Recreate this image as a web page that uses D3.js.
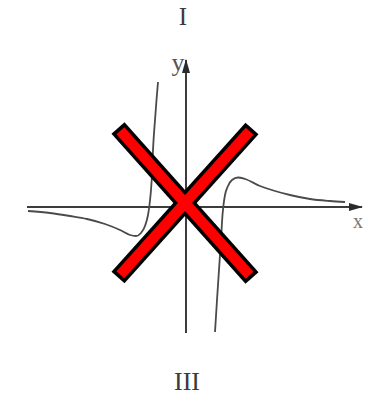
<!DOCTYPE html>
<html>
<head>
<meta charset="utf-8">
<script src="https://cdn.jsdelivr.net/npm/d3@7"></script>
<style>
  body { margin: 0; background: #fff; }
  svg { display: block; }
</style>
</head>
<body>
<svg id="chart" width="368" height="417"></svg>
<script>
// curve (x, y in plot units)
const leftX = [-7.9, -6.8, -5.8, -4.95, -4.05, -3.3, -2.8, -2.5, -2.25, -2.05, -1.9, -1.825, -1.75, -1.7, -1.65, -1.55, -1.475, -1.4];
const leftY = [-0.2, -0.3, -0.45, -0.6, -0.85, -1.15, -1.4, -1.45, -1.3, -0.95, -0.4, 0.1, 0.85, 1.6, 2.85, 4.35, 5.35, 6.25];
const rightX = [1.45, 1.55, 1.65, 1.75, 1.825, 1.875, 1.95, 2.1, 2.3, 2.6, 2.95, 3.7, 4.45, 5.2, 6.2, 7.2, 7.95];
const rightY = [-6.25, -4.65, -3.15, -1.65, -0.4, 0.1, 0.6, 1.05, 1.35, 1.475, 1.4, 1.05, 0.8, 0.6, 0.4, 0.3, 0.25];

const xAxisExtent = [-7.95, 8.8];
const yAxisExtent = [-6.3, 7.35];
const quadrantLabels = ["I", "III"];
// red cross arms: [x1, y1, x2, y2]
const crossArms = [[-3.4, 3.95, 3.3, -3.55], [3.3, 3.925, -3.4, -3.525]];

let svg = d3.select("#chart");

let xScale = d3.scaleLinear().domain([0, 1]).range([186, 206]),
  yScale = d3.scaleLinear().domain([0, 1]).range([207, 187]);

// arrow heads
let defs = svg.append("defs");
defs.append("marker")
  .attr("id", "arrow")
  .attr("viewBox", "0 0 14 8")
  .attr("refX", 13)
  .attr("refY", 4)
  .attr("markerWidth", 14)
  .attr("markerHeight", 8)
  .attr("markerUnits", "userSpaceOnUse")
  .attr("orient", "auto")
  .append("path")
  .attr("d", "M0,0 L14,4 L0,8 Z")
  .attr("fill", "#2b2b2b");

// axes
svg.append("line")
  .attr("x1", xScale(xAxisExtent[0]))
  .attr("x2", xScale(xAxisExtent[1]))
  .attr("y1", yScale(0))
  .attr("y2", yScale(0))
  .attr("stroke", "#3c3c3c")
  .attr("stroke-width", 2)
  .attr("marker-end", "url(#arrow)");

svg.append("line")
  .attr("x1", xScale(0))
  .attr("x2", xScale(0))
  .attr("y1", yScale(yAxisExtent[0]))
  .attr("y2", yScale(yAxisExtent[1]))
  .attr("stroke", "#3c3c3c")
  .attr("stroke-width", 2)
  .attr("marker-end", "url(#arrow)");

// curve
let line = d3.line()
  .x((d) => xScale(d[0]))
  .y((d) => yScale(d[1]))
  .curve(d3.curveMonotoneX);

[[leftX, leftY], [rightX, rightY]].forEach(([xs, ys]) => {
  svg.append("path")
    .datum(xs.map((x, i) => [x, ys[i]]))
    .attr("d", line)
    .attr("fill", "none")
    .attr("stroke", "#4a4a4a")
    .attr("stroke-width", 1.8);
});

// labels
const serif = "'Liberation Serif', 'DejaVu Serif', serif";
svg.append("text")
  .attr("x", 183).attr("y", 25)
  .attr("text-anchor", "middle")
  .attr("font-family", serif)
  .attr("font-size", "25px")
  .attr("fill", "#3a3a3a")
  .text(quadrantLabels[0]);

svg.append("text")
  .attr("x", 187).attr("y", 390)
  .attr("text-anchor", "middle")
  .attr("font-family", serif)
  .attr("font-size", "26px")
  .attr("fill", "#3a3a3a")
  .text(quadrantLabels[1]);

svg.append("text")
  .attr("x", 178).attr("y", 71)
  .attr("text-anchor", "middle")
  .attr("font-family", serif)
  .attr("font-size", "26px")
  .attr("fill", "#555")
  .text("y");

svg.append("text")
  .attr("x", 358).attr("y", 228)
  .attr("text-anchor", "middle")
  .attr("font-family", serif)
  .attr("font-size", "20px")
  .attr("fill", "#777")
  .text("x");

// red cross overlay
function armPoints(a, inset) {
  let x1 = xScale(a[0]), y1 = yScale(a[1]), x2 = xScale(a[2]), y2 = yScale(a[3]);
  let len = Math.hypot(x2 - x1, y2 - y1);
  let ux = (x2 - x1) / len, uy = (y2 - y1) / len;
  return [x1 + ux * inset, y1 + uy * inset, x2 - ux * inset, y2 - uy * inset];
}

let cross = svg.append("g");
crossArms.forEach((a) => {
  let p = armPoints(a, 0);
  cross.append("line")
    .attr("x1", p[0]).attr("y1", p[1]).attr("x2", p[2]).attr("y2", p[3])
    .attr("stroke", "#000").attr("stroke-width", 17.5);
});
crossArms.forEach((a) => {
  let p = armPoints(a, 3.6);
  cross.append("line")
    .attr("x1", p[0]).attr("y1", p[1]).attr("x2", p[2]).attr("y2", p[3])
    .attr("stroke", "#ff0000").attr("stroke-width", 10.5);
});
</script>
</body>
</html>
